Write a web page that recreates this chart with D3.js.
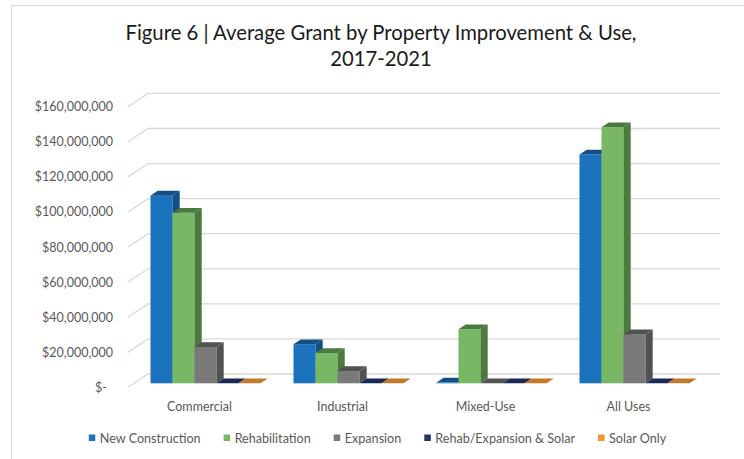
<!DOCTYPE html>
<html>
<head>
<meta charset="utf-8">
<script src="https://cdn.jsdelivr.net/npm/d3@7"></script>
<style>
  body { margin: 0; background: #fff; }
  svg text { font-family: Lato, "Liberation Sans", sans-serif; }
</style>
</head>
<body>
<div id="chart"></div>
<script>
var categories = ["Commercial", "Industrial", "Mixed-Use", "All Uses"];
var seriesNames = ["New Construction", "Rehabilitation", "Expansion", "Rehab/Expansion & Solar", "Solar Only"];
var newConstruction = [107000000, 22300000, 400000, 130500000];
var rehabilitation = [97300000, 17300000, 30800000, 146000000];
var expansion = [20700000, 7000000, 0, 27900000];
var rehabExpansionSolar = [0, 0, 0, 0];
var solarOnly = [0, 0, 0, 0];
var yTicks = [0, 20000000, 40000000, 60000000, 80000000, 100000000, 120000000, 140000000, 160000000];

var seriesValues = [newConstruction, rehabilitation, expansion, rehabExpansionSolar, solarOnly];
// front and shaded (top / side) colours per series
var colors = [
  { front: "#1b72bd", dark: "#134f85" },
  { front: "#78b865", dark: "#4b7a3e" },
  { front: "#7a7a7a", dark: "#525252" },
  { front: "#22356a", dark: "#1b2a55" },
  { front: "#f39533", dark: "#c07a2c" }
];

var WIDTH = 744, HEIGHT = 459;
var DX = 20, DY = -13.3;      // depth of the 3d box
var F1 = 0.3, F2 = 0.66;      // bar front / back position inside the depth

var svg = d3.select("#chart").append("svg")
  .attr("width", WIDTH)
  .attr("height", HEIGHT);

// chart border
svg.append("rect")
  .attr("x", 11.5).attr("y", 5.5)
  .attr("width", 800).attr("height", 500)
  .attr("fill", "none")
  .attr("stroke", "#d9d9d9");

var x = d3.scaleBand().domain(categories).range([128, 700]);
var xs = d3.scaleBand().domain(seriesNames).range([0, x.bandwidth()]).paddingOuter(0.75);
var y = d3.scaleLinear().domain([0, 160000000]).range([387.3, 106.7]);

// title
var title = svg.append("text")
  .attr("text-anchor", "middle")
  .attr("font-size", "20.3px")
  .attr("fill", "#1a1a1a");
title.append("tspan").attr("x", 381).attr("y", 40)
  .text("Figure 6 | Average Grant by Property Improvement & Use,");
title.append("tspan").attr("x", 381).attr("y", 66)
  .text("2017-2021");

// gridlines: side wall diagonal + back wall
svg.append("g").selectAll("path")
  .data(yTicks)
  .enter().append("path")
  .attr("d", function (t) {
    var y0 = y(t);
    return "M" + x.range()[0] + "," + y0 +
      "L" + (x.range()[0] + DX) + "," + (y0 + DY) +
      "L" + (x.range()[1] + DX) + "," + (y0 + DY);
  })
  .attr("fill", "none")
  .attr("stroke", "#d9d9d9")
  .attr("stroke-width", 1.3);

// y tick labels
var money = d3.format("$,");
svg.append("g").selectAll("text")
  .data(yTicks)
  .enter().append("text")
  .attr("x", function (t) { return t === 0 ? 107 : 113; })
  .attr("y", function (t) { return y(t) + 4.5; })
  .attr("text-anchor", "end")
  .attr("font-size", "12.5px")
  .attr("fill", "#595959")
  .text(function (t) { return t === 0 ? "$-" : money(t); });

// bars
var bars = [];
categories.forEach(function (c, ci) {
  seriesNames.forEach(function (s, si) {
    bars.push({ cat: c, series: s, si: si, value: seriesValues[si][ci] });
  });
});

var ddx = (F2 - F1) * DX, ddy = (F2 - F1) * DY;
var barG = svg.append("g").selectAll("g")
  .data(bars)
  .enter().append("g");

function geom(d) {
  var x1 = x(d.cat) + xs(d.series) + F1 * DX;
  var w = xs.bandwidth();
  var yb = y(0) + F1 * DY;
  var yt = y(d.value) + F1 * DY;
  return { x1: x1, w: w, yb: yb, yt: yt };
}

barG.append("rect")
  .attr("x", function (d) { return geom(d).x1; })
  .attr("y", function (d) { return geom(d).yt; })
  .attr("width", function (d) { return geom(d).w; })
  .attr("height", function (d) { var g = geom(d); return g.yb - g.yt; })
  .attr("fill", function (d) { return colors[d.si].front; });

// right side
barG.append("path")
  .attr("d", function (d) {
    var g = geom(d);
    return "M" + (g.x1 + g.w) + "," + g.yt +
      "L" + (g.x1 + g.w + ddx) + "," + (g.yt + ddy) +
      "L" + (g.x1 + g.w + ddx) + "," + (g.yb + ddy) +
      "L" + (g.x1 + g.w) + "," + g.yb + "Z";
  })
  .attr("fill", function (d) { return colors[d.si].dark; });

// top
barG.append("path")
  .attr("d", function (d) {
    var g = geom(d);
    return "M" + g.x1 + "," + g.yt +
      "L" + (g.x1 + g.w) + "," + g.yt +
      "L" + (g.x1 + g.w + ddx) + "," + (g.yt + ddy) +
      "L" + (g.x1 + ddx) + "," + (g.yt + ddy) + "Z";
  })
  .attr("fill", function (d) { return colors[d.si].dark; });

// category labels
svg.append("g").selectAll("text")
  .data(categories)
  .enter().append("text")
  .attr("x", function (c) { return x(c) + x.bandwidth() / 2; })
  .attr("y", 410.5)
  .attr("text-anchor", "middle")
  .attr("font-size", "12.5px")
  .attr("fill", "#595959")
  .text(function (c) { return c; });

// legend, laid out from the measured text widths
var legend = svg.append("g");
var items = legend.selectAll("g")
  .data(seriesNames)
  .enter().append("g");
items.append("rect")
  .attr("width", 6.5).attr("height", 6.5)
  .attr("y", 434.5)
  .attr("fill", function (s, i) { return colors[i].front; });
items.append("text")
  .attr("x", 11)
  .attr("y", 442.5)
  .attr("font-size", "12.6px")
  .attr("fill", "#595959")
  .text(function (s) { return s; });

var GAP = 23;
var pos = 0, offsets = [];
items.each(function () {
  offsets.push(pos);
  pos += 11 + d3.select(this).select("text").node().getComputedTextLength() + GAP;
});
var total = pos - GAP;
var start = 377.5 - total / 2;
items.attr("transform", function (s, i) { return "translate(" + (start + offsets[i]) + ",0)"; });
</script>
</body>
</html>
